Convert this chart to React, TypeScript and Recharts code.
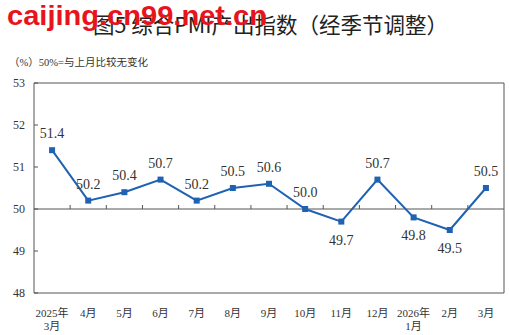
import React from 'react';
import { ComposedChart, Line, XAxis, YAxis, ReferenceLine, ReferenceArea, LabelList } from 'recharts';

const months = ['2025年\n3月', '4月', '5月', '6月', '7月', '8月', '9月', '10月', '11月', '12月', '2026年\n1月', '2月', '3月'];
const values = [51.4, 50.2, 50.4, 50.7, 50.2, 50.5, 50.6, 50.0, 49.7, 50.7, 49.8, 49.5, 50.5];
const yTicks = [48, 49, 50, 51, 52, 53];
const baseline = 50;
const titleText = '图5  综合PMI产出指数（经季节调整）';
const noteText = '（%）50%=与上月比较无变化';
const watermark = 'caijing.cn99.net.cn';

const data = months.map((m, i) => ({ month: m, value: values[i] }));

const BLUE = '#1f61b3';
const AXIS = '#555555';
const SERIF = '"Liberation Serif", "Noto Sans CJK SC", serif';
const Y_MARGIN = 9;

const XTick = (props: any) => {
  const { x, y, payload } = props;
  const lines = String(payload.value).split('\n');
  return (
    <text x={x} y={y + 24} textAnchor="middle" fontSize={11} fill="#333" fontFamily={SERIF}>
      {lines.map((l, i) => (
        <tspan key={i} x={x} dy={i === 0 ? 0 : 13}>{l}</tspan>
      ))}
    </text>
  );
};

const YTick = (props: any) => {
  const { x, y, payload } = props;
  const ax = x + Y_MARGIN;
  return (
    <g>
      <text x={x} y={y} dy={4} textAnchor="end" fontSize={12} fill="#333" fontFamily={SERIF}>{payload.value}</text>
      <line x1={ax} x2={ax + 4} y1={y} y2={y} stroke={AXIS} strokeWidth={1} />
    </g>
  );
};

const MidAxis = (props: any) => {
  const { x1, y1, x2 } = props;
  const n = months.length;
  const band = (x2 - x1) / n;
  const ticks = [];
  for (let i = 1; i < n; i++) {
    const tx = x1 + band * i;
    ticks.push(<line key={i} x1={tx} x2={tx} y1={y1} y2={y1 - 4} stroke={AXIS} strokeWidth={1} />);
  }
  return (
    <g>
      <line x1={x1} x2={x2} y1={y1} y2={y1} stroke={AXIS} strokeWidth={1} />
      {ticks}
    </g>
  );
};

const SquareDot = (p: any) => {
  const { cx, cy, index } = p;
  if (cx == null || cy == null) return <g key={index} />;
  return <rect key={index} x={cx - 3} y={cy - 3} width={6} height={6} fill={BLUE} />;
};

const ValueLabel = (props: any) => {
  const { x, y, value } = props;
  const below = Number(value) < baseline;
  return (
    <text x={x} y={below ? y + 23 : y - 12} textAnchor="middle" fontSize={14} fill="#333" fontFamily={SERIF}>
      {Number(value).toFixed(1)}
    </text>
  );
};

export default function App() {
  return (
    <div style={{ position: 'absolute', left: 0, top: 0, width: 509, height: 335, background: '#fff' }}>
      <ComposedChart width={509} height={335} data={data} margin={{ top: 83, right: 5, bottom: 0, left: 0 }}>
        <ReferenceArea y1={48} y2={53} fill="none" stroke={AXIS} strokeWidth={1} ifOverflow="visible" />
        <XAxis dataKey="month" scale="band" height={42} axisLine={false} tickLine={false} tickSize={0} tickMargin={0} interval={0} tick={<XTick />} />
        <YAxis width={34} domain={[48, 53]} ticks={yTicks} axisLine={false} tickLine={false} tickSize={0} tickMargin={Y_MARGIN} tick={<YTick />} />
        <ReferenceLine y={baseline} shape={<MidAxis />} ifOverflow="visible" />
        <Line dataKey="value" stroke={BLUE} strokeWidth={2} isAnimationActive={false} dot={SquareDot} activeDot={false}>
          <LabelList dataKey="value" content={<ValueLabel />} />
        </Line>
      </ComposedChart>
      <svg width={509} height={75} style={{ position: 'absolute', left: 0, top: 0, pointerEvents: 'none' }}>
        <text x={93} y={33} fontSize={21.5} fill="#222" fontFamily={'"Noto Sans CJK SC", sans-serif'}>{titleText}</text>
        <text x={7} y={25} fontSize={28} fontWeight="bold" fill="#e8141c" fontFamily={'"Liberation Sans", Arial, sans-serif'} textLength={260} lengthAdjust="spacingAndGlyphs">{watermark}</text>
        <text x={9} y={66} fontSize={10.5} fill="#333" fontFamily={SERIF}>{noteText}</text>
      </svg>
    </div>
  );
}
